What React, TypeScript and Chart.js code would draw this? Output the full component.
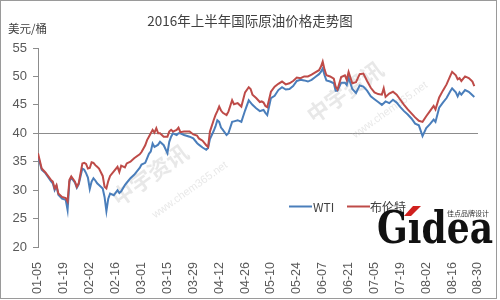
import React, { useEffect, useRef } from "react";
import { Chart, registerables } from "chart.js";

Chart.register(...registerables);

// ---------- data ----------
const TITLE = "2016年上半年国际原油价格走势图";
const UNIT = "美元/桶";
const SERIES_NAMES = ["WTI", "布伦特"];
const SERIES_COLORS = ["#4a7ebb", "#be4b48"];
const X_START = "01-05";
const X_END = "08-30";
const X_TICK_STEP_DAYS = 14;
const Y_MIN = 20;
const Y_MAX = 55;
const Y_STEP = 5;
const Y_MARK_LINE = 40;
const WATERMARK = ["中宇资讯", "www.chem365.net"];
const LOGO = ["Gıdea", "佳点品牌设计"];

const dates = [
  "01-05","01-07","01-09","01-12","01-13","01-14","01-15","01-16","01-18","01-20",
  "01-21","01-22","01-23","01-25","01-26","01-27","01-29","01-30","01-31","02-01",
  "02-02","02-03","02-04","02-05","02-06","02-07","02-09","02-10","02-11","02-12",
  "02-13","02-15","02-17","02-18","02-19","02-21","02-22","02-24","02-26","02-29",
  "03-01","03-03","03-04","03-05","03-06","03-07","03-08","03-09","03-10","03-11",
  "03-13","03-15","03-16","03-17","03-18","03-20","03-21","03-22","03-24","03-27",
  "03-29","03-31","04-01","04-03","04-05","04-06","04-07","04-09","04-10","04-11",
  "04-12","04-13","04-14","04-16","04-17","04-19","04-20","04-22","04-24","04-26",
  "04-28","04-29","04-30","05-02","05-04","05-05","05-06","05-07","05-08","05-10",
  "05-12","05-14","05-16","05-18","05-20","05-22","05-24","05-26","05-28","05-30",
  "06-01","06-03","06-05","06-06","06-07","06-08","06-09","06-11","06-13","06-14",
  "06-15","06-17","06-19","06-20","06-21","06-23","06-25","06-27","06-29","07-01",
  "07-03","07-05","07-07","07-09","07-10","07-11","07-13","07-15","07-17","07-19",
  "07-21","07-23","07-25","07-27","07-29","07-31","08-02","08-04","08-06","08-07",
  "08-09","08-11","08-13","08-15","08-16","08-18","08-19","08-20","08-21","08-23",
  "08-25","08-26","08-27","08-28"
];

const wti = [
  36.0,33.6,33.0,31.6,31.2,30.0,30.7,29.2,28.5,28.3,
  26.5,31.5,32.2,31.3,30.4,31.0,33.8,33.6,33.0,32.2,
  30.2,31.5,32.1,31.7,31.2,30.9,30.3,28.8,26.3,28.5,
  29.4,29.1,30.0,29.5,29.8,30.9,31.3,32.1,32.7,33.9,
  34.5,34.8,35.6,36.4,36.8,38.2,37.6,37.8,38.0,38.5,
  37.9,36.5,38.5,39.4,40.0,39.7,40.0,40.0,39.7,39.4,
  39.1,38.3,38.0,37.5,37.1,37.4,39.0,40.4,41.2,42.3,
  42.0,41.0,40.6,39.7,40.0,42.0,42.1,42.3,42.0,44.0,
  45.8,45.4,45.0,44.4,43.9,44.0,44.1,43.6,43.2,46.2,
  46.6,47.6,48.1,47.7,47.8,48.3,49.2,49.4,49.3,49.1,
  49.4,49.9,50.4,50.8,51.4,50.2,49.3,49.1,48.8,47.5,
  47.5,48.9,48.9,48.5,49.8,47.8,47.1,48.4,48.2,47.5,
  46.5,46.0,45.5,45.0,45.3,45.6,45.3,45.9,45.4,44.6,
  43.9,43.3,42.6,41.7,41.4,39.5,40.9,41.6,42.4,42.0,
  44.5,45.4,46.2,47.4,47.9,47.2,46.5,47.2,46.8,47.6,
  47.3,47.0,46.7,46.4
];

const brent = [
  36.5,33.8,33.1,31.8,31.5,30.3,30.9,29.4,28.8,28.6,
  28.0,31.8,32.4,31.5,30.6,31.2,34.7,34.8,34.6,33.8,
  33.9,34.9,34.8,34.4,34.1,33.8,32.5,30.6,30.3,31.6,
  32.5,33.3,34.1,33.2,34.3,34.0,34.7,35.0,35.6,36.3,
  36.7,37.9,38.8,39.4,40.0,40.6,40.1,40.9,40.0,40.0,
  39.4,39.4,40.3,40.6,40.3,40.6,41.0,40.2,40.3,40.3,
  39.8,39.6,39.1,38.7,37.9,37.6,40.3,42.3,43.2,43.9,
  44.7,44.0,43.6,43.2,43.8,45.8,45.1,45.3,44.7,47.2,
  48.1,47.8,46.8,46.2,45.5,45.6,45.4,44.8,44.6,47.3,
  48.2,48.7,49.1,48.6,48.8,49.2,49.8,49.7,50.0,50.0,
  50.3,50.7,51.1,51.7,52.6,51.2,50.2,50.0,49.6,48.2,
  47.7,49.9,50.2,49.4,50.8,48.8,49.0,50.4,50.5,49.2,
  48.0,47.2,46.9,46.8,47.9,46.4,47.0,47.3,46.8,45.9,
  45.0,44.2,43.5,42.8,42.2,42.0,43.0,43.9,44.8,44.2,
  46.3,47.5,48.6,50.1,50.8,50.2,49.5,49.7,49.2,50.0,
  49.7,49.4,49.1,48.3
];

// ---------- helpers ----------
const BASE = Date.UTC(2016, 0, 5);
const DAY = 86400000;
function dayOf(md: string): number {
  const [m, d] = md.split("-").map(Number);
  return Math.round((Date.UTC(2016, m - 1, d) - BASE) / DAY);
}
function labelOf(day: number): string {
  const t = new Date(BASE + day * DAY);
  const mm = String(t.getUTCMonth() + 1).padStart(2, "0");
  const dd = String(t.getUTCDate()).padStart(2, "0");
  return `${mm}-${dd}`;
}

const LATIN = "'Liberation Sans', Arial, sans-serif";
const CJK = "'Noto Sans CJK SC', 'Liberation Sans', sans-serif";

const decorPlugin = {
  id: "decor",
  beforeDraw(chart: any) {
    const ctx = chart.ctx;
    ctx.save();
    ctx.fillStyle = "#ffffff";
    ctx.fillRect(0, 0, chart.width, chart.height);
    ctx.restore();
  },
  beforeDatasetsDraw(chart: any) {
    const ctx = chart.ctx;
    ctx.save();
    ctx.fillStyle = "rgba(190,190,190,0.35)";
    const marks = [
      { x: 150, y: 175, sx: 190, sy: 190 },
      { x: 345, y: 92, sx: 390, sy: 110 },
    ];
    for (const m of marks) {
      ctx.save();
      ctx.translate(m.x, m.y);
      ctx.rotate(-0.62);
      ctx.font = `bold 22px ${CJK}`;
      ctx.textAlign = "center";
      ctx.textBaseline = "middle";
      ctx.fillText(WATERMARK[0], 0, 0);
      ctx.restore();
      ctx.save();
      ctx.translate(m.sx, m.sy);
      ctx.rotate(-0.62);
      ctx.font = `11px ${LATIN}`;
      ctx.textAlign = "center";
      ctx.textBaseline = "middle";
      ctx.fillText(WATERMARK[1], 0, 0);
      ctx.restore();
    }
    ctx.restore();
  },
  afterDraw(chart: any) {
    const ctx = chart.ctx;
    ctx.save();
    // frame
    ctx.strokeStyle = "#9a9a9a";
    ctx.lineWidth = 1;
    ctx.strokeRect(0.5, 0.5, 496, 298);

    // title
    ctx.fillStyle = "#404040";
    ctx.font = `13.5px ${CJK}`;
    ctx.textAlign = "center";
    ctx.textBaseline = "middle";
    ctx.fillText(TITLE, 250, 21);

    // unit
    ctx.font = `11.5px ${CJK}`;
    ctx.textAlign = "left";
    ctx.fillText(UNIT, 8, 29);

    // legend
    const ds = chart.data.datasets;
    const items = [
      { x: 289, tx: 313 },
      { x: 347, tx: 370 },
    ];
    ctx.font = `12px ${CJK}`;
    ctx.textBaseline = "middle";
    items.forEach((it, i) => {
      ctx.strokeStyle = ds[i].borderColor;
      ctx.lineWidth = 2;
      ctx.beginPath();
      ctx.moveTo(it.x, 206.5);
      ctx.lineTo(it.x + 23, 206.5);
      ctx.stroke();
      ctx.fillStyle = "#404040";
      ctx.fillText(ds[i].label, it.tx, 207);
    });

    // logo
    ctx.save();
    ctx.font = `900 44px 'DejaVu Serif', serif`;
    ctx.textBaseline = "alphabetic";
    ctx.textAlign = "left";
    const w = ctx.measureText(LOGO[0]).width;
    const target = 116;
    ctx.translate(377, 243);
    ctx.scale(target / w, 1);
    ctx.fillStyle = "#111111";
    ctx.fillText(LOGO[0], 0, 0);
    ctx.restore();
    // red accent
    ctx.fillStyle = "#d0201e";
    ctx.beginPath();
    ctx.moveTo(404, 216);
    ctx.lineTo(411, 216);
    ctx.lineTo(421, 206);
    ctx.lineTo(413, 206);
    ctx.closePath();
    ctx.fill();
    ctx.fillStyle = "#333333";
    ctx.font = `7px ${CJK}`;
    ctx.textAlign = "left";
    ctx.textBaseline = "middle";
    ctx.fillText(LOGO[1], 447, 213);
    ctx.restore();
  },
};

export default function App() {
  const ref = useRef<HTMLCanvasElement | null>(null);

  useEffect(() => {
    document.body.style.margin = "0";
    const canvas = ref.current;
    if (!canvas) return;
    const xMin = dayOf(X_START);
    const xMax = dayOf(X_END);
    const chart = new Chart(canvas, {
      type: "line",
      data: {
        datasets: [
          {
            label: SERIES_NAMES[0],
            data: dates.map((d, i) => ({ x: dayOf(d), y: wti[i] })),
            borderColor: SERIES_COLORS[0],
            backgroundColor: SERIES_COLORS[0],
            borderWidth: 2,
            pointRadius: 0,
            tension: 0,
            order: 1,
          },
          {
            label: SERIES_NAMES[1],
            data: dates.map((d, i) => ({ x: dayOf(d), y: brent[i] })),
            borderColor: SERIES_COLORS[1],
            backgroundColor: SERIES_COLORS[1],
            borderWidth: 2,
            pointRadius: 0,
            tension: 0,
            order: 0,
          },
        ],
      },
      options: {
        responsive: false,
        animation: false,
        devicePixelRatio: 1,
        layout: { padding: { top: 48, right: 11, left: 0, bottom: 0 } },
        plugins: {
          legend: { display: false },
          title: { display: false },
          tooltip: { enabled: false },
        },
        scales: {
          x: {
            type: "linear",
            min: xMin,
            max: xMax,
            grid: { display: false },
            border: { display: false },
            ticks: {
              stepSize: X_TICK_STEP_DAYS,
              autoSkip: false,
              maxRotation: 90,
              minRotation: 90,
              padding: 7,
              color: "#595959",
              font: { family: LATIN, size: 12.5 },
              callback: (v: any) => labelOf(Number(v)),
            },
            afterFit: (s: any) => {
              s.height = 53;
            },
          },
          y: {
            type: "linear",
            min: Y_MIN,
            max: Y_MAX,
            grid: {
              drawOnChartArea: true,
              drawTicks: true,
              tickLength: 5,
              color: (c: any) =>
                c.tick && c.tick.value === Y_MARK_LINE ? "#8c8c8c" : "rgba(0,0,0,0)",
              tickColor: "#8c8c8c",
            },
            border: { display: true, color: "#8c8c8c" },
            ticks: {
              stepSize: Y_STEP,
              padding: 6,
              color: "#595959",
              font: { family: LATIN, size: 13 },
            },
            afterFit: (s: any) => {
              s.width = 38;
            },
          },
        },
      },
      plugins: [decorPlugin],
    });
    return () => chart.destroy();
  }, []);

  return (
    <div style={{ width: 500, height: 300 }}>
      <canvas ref={ref} width={500} height={300} style={{ display: "block" }} />
    </div>
  );
}
